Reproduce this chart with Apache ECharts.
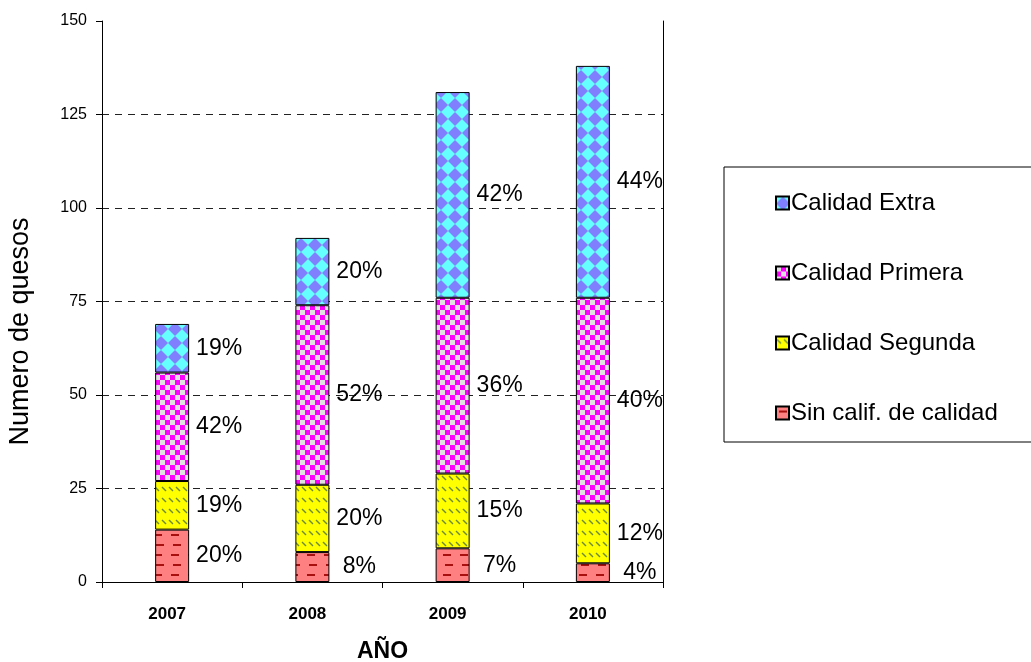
<!DOCTYPE html>
<html>
<head>
<meta charset="utf-8">
<script src="https://cdn.jsdelivr.net/npm/echarts@6/dist/echarts.min.js"></script>
<style>
html,body{margin:0;padding:0;background:#fff;}
#chart{width:1031px;height:662px;}
</style>
</head>
<body>
<div id="chart"></div>
<script>
// data
var years = ['2007', '2008', '2009', '2010'];
var sinCalif = [14, 8, 9, 5];
var segunda = [13, 18, 20, 16];
var primera = [29, 48, 47, 55];
var extra = [13, 18, 55, 62];

var pctSin = ['20%', '8%', '7%', '4%'];
var pctSeg = ['19%', '20%', '15%', '12%'];
var pctPri = ['42%', '52%', '36%', '40%'];
var pctExt = ['19%', '20%', '42%', '44%'];

var yTicks = [0, 25, 50, 75, 100, 125, 150];

/* fill patterns */
function tile(w, h, paint){
	var c = document.createElement('canvas');
	c.width = w; c.height = h;
	paint(c.getContext('2d'));
	return {image: c, repeat: 'repeat'};
}

var patExtra = tile(14, 14, function(g){
	g.fillStyle = '#66FFFF'; g.fillRect(0, 0, 14, 14);
	g.fillStyle = '#8080FF';
	g.beginPath(); g.moveTo(7, 0); g.lineTo(14, 7); g.lineTo(7, 14); g.lineTo(0, 7); g.closePath(); g.fill();
});
var patPrimera = tile(10, 10, function(g){
	g.fillStyle = '#FF00FF'; g.fillRect(0, 0, 10, 10);
	g.fillStyle = '#E0E0E0'; g.fillRect(0, 0, 5, 5); g.fillRect(5, 5, 5, 5);
});
var patSegunda = tile(7, 11, function(g){
	g.fillStyle = '#FFFF00'; g.fillRect(0, 0, 7, 11);
	g.strokeStyle = '#6E8B3D'; g.lineWidth = 1.4;
	g.beginPath(); g.moveTo(1, 3); g.lineTo(5, 7); g.stroke();
});
var patSin = tile(17, 20, function(g){
	g.fillStyle = '#FF8080'; g.fillRect(0, 0, 17, 20);
	g.fillStyle = '#A81010';
	g.fillRect(3, 4, 8, 2);
	g.fillRect(1, 14, 8, 2);
});

var font = 'Liberation Sans, Arial, sans-serif';

function barSeries(name, values, labels, pattern){
	return {
		name: name,
		type: 'bar',
		stack: 'total',
		barWidth: 34,
		data: values,
		itemStyle: {color: pattern, borderColor: '#000', borderWidth: 1},
		label: {
			show: true,
			// labels sit centred a fixed step right of the bar
			position: [64, '50%'],
			align: 'center',
			verticalAlign: 'middle',
			color: '#000',
			fontFamily: font,
			fontSize: 23,
			formatter: function(p){ return labels[p.dataIndex]; }
		},
		emphasis: {disabled: true}
	};
}

var gridColors = yTicks.map(function(v, i){
	return (i === 0 || i === yTicks.length - 1) ? 'rgba(0,0,0,0)' : '#222';
});

var myChart = echarts.init(document.getElementById('chart'));
var option = {
	backgroundColor: '#fff',
	animation: false,
	grid: {left: 102, right: 368, top: 21, bottom: 80, containLabel: false, outerBoundsMode: 'none'},
	legend: {
		orient: 'vertical',
		left: 724,
		top: 167,
		data: ['Calidad Extra', 'Calidad Primera', 'Calidad Segunda', 'Sin calif. de calidad'],
		itemWidth: 13,
		itemHeight: 13,
		itemGap: 46,
		padding: [24, 80, 17, 51],
		borderColor: '#000',
		borderWidth: 1,
		icon: 'rect',
		textStyle: {fontFamily: font, fontSize: 24, color: '#000', padding: [0, 0, 0, -3]}
	},
	xAxis: {
		type: 'category',
		data: years,
		name: 'AÑO',
		nameLocation: 'middle',
		nameGap: 58,
		nameTextStyle: {fontFamily: font, fontSize: 23, fontWeight: 'bold', color: '#000'},
		axisLine: {lineStyle: {color: '#000', width: 1}},
		axisTick: {show: true, length: 6, lineStyle: {color: '#000'}},
		axisLabel: {fontFamily: font, fontSize: 17, fontWeight: 'bold', color: '#000', margin: 24, padding: [0, 10, 0, 0]}
	},
	yAxis: [{
		type: 'value',
		min: yTicks[0],
		max: yTicks[yTicks.length - 1],
		interval: 25,
		name: 'Numero de quesos',
		nameLocation: 'middle',
		nameGap: 68,
		nameTextStyle: {fontFamily: font, fontSize: 27, color: '#000', padding: [0, 60, 0, 0]},
		axisLine: {show: true, lineStyle: {color: '#000', width: 1}},
		axisTick: {show: true, length: 6, lineStyle: {color: '#000'}},
		axisLabel: {fontFamily: font, fontSize: 16, color: '#000', margin: 15},
		splitLine: {show: true, lineStyle: {color: gridColors, type: [7, 6], width: 1}}
	}, {
		type: 'value',
		position: 'right',
		min: 0, max: 150, interval: 25,
		axisLine: {show: true, lineStyle: {color: '#000', width: 1}},
		axisTick: {show: false},
		axisLabel: {show: false},
		splitLine: {show: false}
	}],
	series: [
		barSeries('Sin calif. de calidad', sinCalif, pctSin, patSin),
		barSeries('Calidad Segunda', segunda, pctSeg, patSegunda),
		barSeries('Calidad Primera', primera, pctPri, patPrimera),
		barSeries('Calidad Extra', extra, pctExt, patExtra)
	]
};
myChart.setOption(option);
</script>
</body>
</html>
